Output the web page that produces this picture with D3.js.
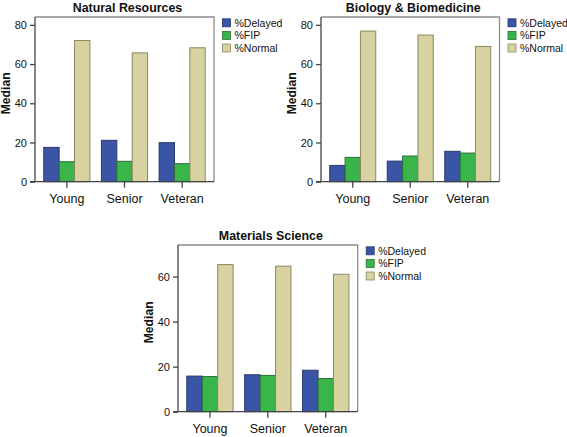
<!DOCTYPE html>
<html>
<head>
<meta charset="utf-8">
<script src="https://cdn.jsdelivr.net/npm/d3@7"></script>
<style>
  html, body { margin: 0; padding: 0; background: #fff; }
  svg { display: block; font-family: "Liberation Sans", Arial, sans-serif; }
</style>
</head>
<body>
<svg id="chart" width="567" height="437"></svg>
<script>
// ---- data ----
const categories = ["Young", "Senior", "Veteran"];
const seriesNames = ["%Delayed", "%FIP", "%Normal"];
const panelTitles = ["Natural Resources", "Biology & Biomedicine", "Materials Science"];

const naturalDelayed = [17.5, 21.1, 19.9];
const naturalFIP     = [10.2, 10.4, 9.2];
const naturalNormal  = [72.0, 65.7, 68.3];

const biologyDelayed = [8.3, 10.5, 15.5];
const biologyFIP     = [12.4, 13.1, 14.6];
const biologyNormal  = [76.8, 74.8, 69.0];

const materialsDelayed = [15.8, 16.4, 18.4];
const materialsFIP     = [15.6, 16.1, 14.7];
const materialsNormal  = [65.3, 64.6, 61.0];

const ticksTop = [0, 20, 40, 60, 80];
const ticksBottom = [0, 20, 40, 60];
const yLabel = "Median";

// ---- styles ----
const fills = ["#3a55a5", "#3ab54a", "#d8d2a0"];
const strokes = ["#28386e", "#2a6e38", "#8a8666"];

const svg = d3.select("#chart");

function drawPanel(opts) {
  const { x0, x1, y0, y1, yMax, ticks, title, values } = opts;
  const g = svg.append("g");

  const y = d3.scaleLinear().domain([0, yMax]).range([y1, y0]);
  const x = d3.scaleBand().domain(categories).range([x0 + 3, x1 - 3])
    .paddingInner(0.2).paddingOuter(0.1);
  const xs = d3.scaleBand().domain(seriesNames).range([0, x.bandwidth()]).padding(0);

  // frame top/right
  g.append("path")
    .attr("d", `M${x0},${y0}H${x1}V${y1}`)
    .attr("fill", "none").attr("stroke", "#8c8c8c").attr("stroke-width", 1.3);

  // bars
  categories.forEach((c, ci) => {
    seriesNames.forEach((s, si) => {
      const v = values[si][ci];
      g.append("rect")
        .attr("x", x(c) + xs(s))
        .attr("y", y(v))
        .attr("width", xs.bandwidth())
        .attr("height", y(0) - y(v))
        .attr("fill", fills[si])
        .attr("stroke", strokes[si])
        .attr("stroke-width", 1);
    });
  });

  // y axis
  const yAxis = d3.axisLeft(y).tickValues(ticks).tickSize(5).tickPadding(3).tickFormat(d3.format("d"));
  const ya = g.append("g").attr("transform", `translate(${x0},0)`).call(yAxis);
  ya.select(".domain").attr("stroke", "#444").attr("stroke-width", 1.3).attr("d", `M0,${y0}V${y1}`);
  ya.selectAll(".tick line").attr("stroke", "#444").attr("stroke-width", 1.3);
  ya.selectAll(".tick text").attr("font-size", 11).attr("fill", "#111")
    .attr("font-family", "Liberation Sans, Arial, sans-serif");

  // x axis
  const xAxis = d3.axisBottom(x).tickSize(6).tickPadding(6);
  const xa = g.append("g").attr("transform", `translate(0,${y1})`).call(xAxis);
  xa.select(".domain").attr("stroke", "#444").attr("stroke-width", 1.3).attr("d", `M${x0 - 5},0H${x1}`);
  xa.selectAll(".tick line").attr("stroke", "#444").attr("stroke-width", 1.3);
  xa.selectAll(".tick text").attr("font-size", 12.5).attr("fill", "#111")
    .attr("font-family", "Liberation Sans, Arial, sans-serif");

  // title
  g.append("text")
    .attr("x", (x0 + x1) / 2 + 3)
    .attr("y", y0 - 5)
    .attr("text-anchor", "middle")
    .attr("font-size", 12.4).attr("font-weight", "bold").attr("fill", "#111")
    .text(title);

  // y label
  g.append("text")
    .attr("transform", `translate(${x0 - 25},${(y0 + y1) / 2 - 6}) rotate(-90)`)
    .attr("text-anchor", "middle")
    .attr("font-size", 12.2).attr("font-weight", "bold").attr("fill", "#111")
    .text(yLabel);

  // legend
  const lx = x1 + 8.5, ly = y0 + 1.8;
  seriesNames.forEach((s, si) => {
    g.append("rect")
      .attr("x", lx).attr("y", ly + si * 12.6)
      .attr("width", 8).attr("height", 8)
      .attr("fill", fills[si]).attr("stroke", strokes[si]).attr("stroke-width", 0.8);
    g.append("text")
      .attr("x", lx + 12).attr("y", ly + si * 12.6 + 8)
      .attr("font-size", 10.5).attr("fill", "#111")
      .text(s);
  });
}

drawPanel({ x0: 35, x1: 214, y0: 17, y1: 181.7, yMax: 84, ticks: ticksTop,
  title: panelTitles[0], values: [naturalDelayed, naturalFIP, naturalNormal] });
drawPanel({ x0: 321, x1: 499.5, y0: 17, y1: 181.7, yMax: 84, ticks: ticksTop,
  title: panelTitles[1], values: [biologyDelayed, biologyFIP, biologyNormal] });
drawPanel({ x0: 178, x1: 357.7, y0: 245, y1: 411.7, yMax: 74, ticks: ticksBottom,
  title: panelTitles[2], values: [materialsDelayed, materialsFIP, materialsNormal] });
</script>
</body>
</html>
